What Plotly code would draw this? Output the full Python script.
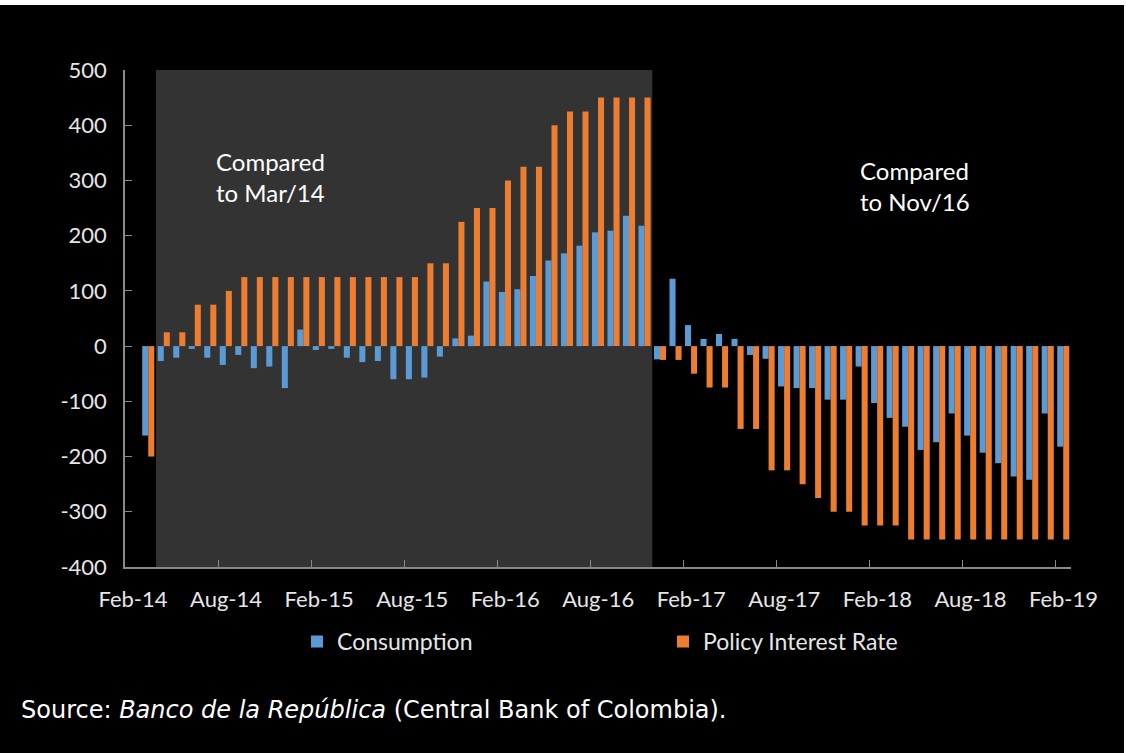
import pandas as pd
import plotly.graph_objects as go

# Monthly categories, Feb-14 .. Feb-19
months = list(pd.date_range("2014-02-01", periods=61, freq="MS").strftime("%b-%y"))

# Change in basis points (no observation for Feb-14)
consumption = [
    None,
    -162, -27, -21, -5, -21, -34, -16, -40, -37, -76, 30,          # Mar-14 .. Jan-15
    -7, -5, -21, -29, -27, -60, -60, -57, -19, 14, 19,             # Feb-15 .. Dec-15
    117, 98, 103, 127, 155, 168, 182, 206, 209, 236, 218,          # Jan-16 .. Nov-16
    -24, 122, 38, 13, 22, 13, -16, -23, -73, -76, -76,             # Dec-16 .. Oct-17
    -97, -97, -37, -103, -130, -146, -188, -174, -122, -162, -193, # Nov-17 .. Sep-18
    -212, -236, -242, -122, -182,                                  # Oct-18 .. Feb-19
]
policy_rate = [
    None,
    -200, 25, 25, 75, 75, 100, 125, 125, 125, 125, 125,
    125, 125, 125, 125, 125, 125, 125, 150, 150, 225, 250,
    250, 300, 325, 325, 400, 425, 425, 450, 450, 450, 450,
    -25, -25, -50, -75, -75, -150, -150, -225, -225, -250, -275,
    -300, -300, -325, -325, -325, -350, -350, -350, -350, -350, -350,
    -350, -350, -350, -350, -350,
]

tick_labels = ["Feb-14", "Aug-14", "Feb-15", "Aug-15", "Feb-16", "Aug-16",
               "Feb-17", "Aug-17", "Feb-18", "Aug-18", "Feb-19"]
y_ticks = [-400, -300, -200, -100, 0, 100, 200, 300, 400, 500]
y_tick_text = [str(v) for v in y_ticks]  # plain hyphen for negatives

# Base periods for the two comparisons
first_period = ("Apr-14", "Nov-16")

BLUE = "#5B9BD5"
ORANGE = "#ED7D31"
AXIS = "#898989"
TXT = "#E6E6E6"
FONT = "Lato"

W, H = 1126, 753
ML, MR, MT, MB = 125, 55, 70, 186
plot_w = W - ML - MR
plot_h = H - MT - MB
half_cat_px = int(round(plot_w / len(months) / 2))

x = list(range(len(months)))

fig = go.Figure()
fig.add_trace(go.Bar(x=x, y=consumption, name="Consumption",
                     marker=dict(color=BLUE, line=dict(width=0))))
fig.add_trace(go.Bar(x=x, y=policy_rate, name="Policy Interest Rate",
                     marker=dict(color=ORANGE, line=dict(width=0))))

# Shaded block for the first comparison period
fig.add_shape(type="rect", xref="x", yref="paper",
              x0=months.index(first_period[0]) - 0.5,
              x1=months.index(first_period[1]) + 0.5,
              y0=0, y1=1, fillcolor="#333333", line=dict(width=0),
              layer="below")

# Thin white page edge along the top and right
fig.add_shape(type="rect", xref="paper", yref="paper",
              x0=-ML / plot_w, x1=1 + MR / plot_w,
              y0=1 + (MT - 5) / plot_h, y1=1 + MT / plot_h,
              fillcolor="#FFFFFF", line=dict(width=0), layer="above")
fig.add_shape(type="rect", xref="paper", yref="paper",
              x0=1 + (MR - 2) / plot_w, x1=1 + MR / plot_w,
              y0=-MB / plot_h, y1=1 + MT / plot_h,
              fillcolor="#FFFFFF", line=dict(width=0), layer="above")

fig.add_annotation(xref="paper", yref="paper", x=(214 - ML) / plot_w, y=0.85,
                   xanchor="left", yanchor="top", align="left", showarrow=False,
                   text="Compared<br>to Mar/14",
                   font=dict(family=FONT, size=24, color="#FFFFFF"))
fig.add_annotation(xref="paper", yref="paper", x=(858 - ML) / plot_w, y=0.83,
                   xanchor="left", yanchor="top", align="left", showarrow=False,
                   text="Compared<br>to Nov/16",
                   font=dict(family=FONT, size=24, color="#FFFFFF"))

fig.add_annotation(xref="paper", yref="paper", x=(19 - ML) / plot_w, y=-0.288,
                   xanchor="left", yanchor="middle", showarrow=False,
                   text="Source: <i>Banco de la República</i> (Central Bank of Colombia).",
                   font=dict(family="DejaVu Sans", size=24, color="#FFFFFF"))

fig.update_layout(
    width=W, height=H,
    margin=dict(l=ML, r=MR, t=MT, b=MB),
    paper_bgcolor="#000000", plot_bgcolor="#000000",
    barmode="group", bargap=0.22, bargroupgap=0,
    font=dict(family=FONT, color=TXT, size=22),
    showlegend=True,
    legend=dict(orientation="h", x=(297 - ML) / plot_w, xanchor="left",
                y=-0.15, yanchor="middle", entrywidth=321,
                font=dict(family=FONT, size=23, color=TXT),
                bgcolor="rgba(0,0,0,0)"),
    xaxis=dict(range=[-0.5, len(months) - 0.5],
               tickmode="array",
               tickvals=[months.index(m) - 0.5 for m in tick_labels],
               ticktext=tick_labels,
               ticklabelshift=half_cat_px,
               ticks="inside", ticklen=7, tickcolor=AXIS, tickwidth=1,
               showline=True, linecolor=AXIS, linewidth=1.5,
               showgrid=False, zeroline=False,
               ticklabelstandoff=12,
               tickfont=dict(family=FONT, size=22, color=TXT)),
    yaxis=dict(range=[-400, 500], tickmode="array", tickvals=y_ticks,
               ticktext=y_tick_text,
               ticks="inside", ticklen=7, tickcolor=AXIS, tickwidth=1,
               showline=True, linecolor=AXIS, linewidth=1.5,
               showgrid=False, zeroline=False,
               ticklabelstandoff=12,
               tickfont=dict(family=FONT, size=22, color=TXT)),
)

fig.write_html("out.html")
